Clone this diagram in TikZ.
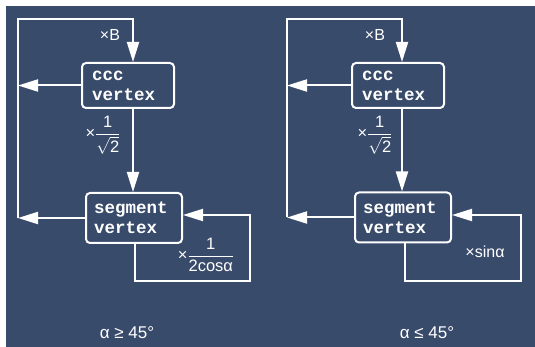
\RequirePackage{fix-cm}
\documentclass[tikz,border=0pt]{standalone}
\usepackage{amsmath}
\usepackage{fontspec}
\setmainfont{Liberation Sans}
\newfontfamily\boxfont{Liberation Mono}
\usetikzlibrary{arrows.meta}
\definecolor{panel}{HTML}{394B6B}
\begin{document}
\begin{tikzpicture}[x=1pt,y=-1pt,
  wire/.style={draw=white,line width=2pt},
  arr/.style={wire,-{Triangle[length=20pt,width=12pt]}},
  vbox/.style={draw=white,line width=2pt,rounded corners=4pt,text=white,
    align=left,inner ysep=0pt,
    font=\boxfont\bfseries\fontsize{17.5}{20}\selectfont},
  lab/.style={text=white,inner sep=0pt,font=\fontsize{16}{19}\selectfont},
  fraclab/.style={text=white,inner sep=0pt,font=\fontsize{16.5}{19}\selectfont},
  caption/.style={text=white,inner sep=0pt,font=\fontsize{17}{20}\selectfont}]

% frame and panel
\useasboundingbox (0,0) rectangle (535,347);
\fill[white] (0,0) rectangle (535,347);
\fill[panel] (6,6) rectangle (535,347);

% ---------- left: alpha >= 45 ----------
\node[vbox,minimum height=45pt,text width=72pt,inner xsep=10pt] (cccL) at (128,85.5) {ccc\\vertex};
\node[vbox,minimum height=50pt,text width=80pt,inner xsep=8pt] (segL) at (134,218) {segment\\vertex};

\coordinate (tlL) at (18,19);
\coordinate (xL) at (133,0);
\coordinate (dL) at (135,281);
\coordinate (brL) at (250,281);
\coordinate (trL) at (250,215);

\draw[arr] (tlL |- segL.west) -- (tlL) -| (xL |- cccL.north);
\draw[arr] (cccL.west) -- (cccL.west -| tlL);
\draw[arr] (segL.west) -- (segL.west -| tlL);
\draw[arr] (xL |- cccL.south) -- (xL |- segL.north);
\draw[arr] (dL |- segL.south) -- (dL) -- (brL) -- (trL) -- (trL -| segL.east);

\node[lab] (bL) at (110,35) {×B};
\node[fraclab] (fL) at (103,135) {×\(\dfrac{\text{1}}{\sqrt{\text{2}}}\)};
\node[fraclab] (gL) at (206,255) {×\(\dfrac{\text{1}}{\text{2cosα}}\)};
\node[caption] (aL) at (127,333) {α ≥ 45°};

% ---------- right: alpha <= 45 ----------
\node[vbox,minimum height=45pt,text width=72pt,inner xsep=10pt] (cccR) at (398,85.5) {ccc\\vertex};
\node[vbox,minimum height=50pt,text width=80pt,inner xsep=8pt] (segR) at (403,217.5) {segment\\vertex};

\coordinate (tlR) at (287,19);
\coordinate (xR) at (402,0);
\coordinate (dR) at (405,281);
\coordinate (brR) at (521,281);
\coordinate (trR) at (521,215);

\draw[arr] (tlR |- segR.west) -- (tlR) -| (xR |- cccR.north);
\draw[arr] (cccR.west) -- (cccR.west -| tlR);
\draw[arr] (segR.west) -- (segR.west -| tlR);
\draw[arr] (xR |- cccR.south) -- (xR |- segR.north);
\draw[arr] (dR |- segR.south) -- (dR) -- (brR) -- (trR) -- (trR -| segR.east);

\node[lab] (bR) at (375,35) {×B};
\node[fraclab] (fR) at (375,135) {×\(\dfrac{\text{1}}{\sqrt{\text{2}}}\)};
\node[lab] (sR) at (485,252) {×sinα};
\node[caption] (aR) at (427,333) {α ≤ 45°};
\end{tikzpicture}
\end{document}
